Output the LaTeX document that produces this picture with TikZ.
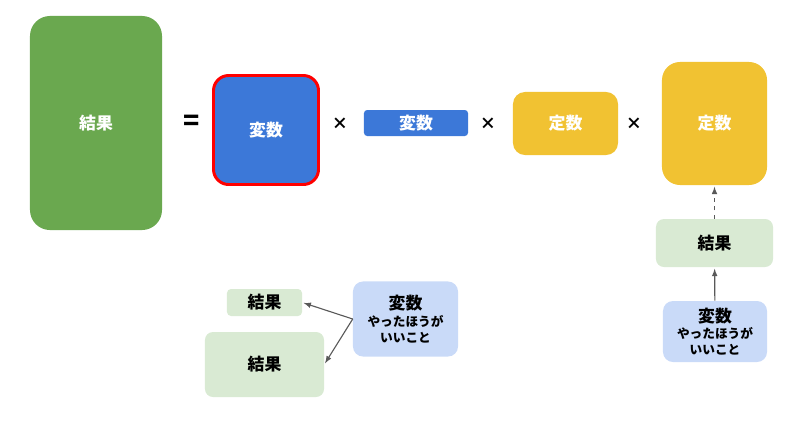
\documentclass[tikz,border=0pt]{standalone}
\usepackage{fontspec}
\setmainfont{Noto Sans CJK JP}
\usepackage{xcolor}
\usetikzlibrary{arrows,positioning}
\definecolor{resgreen}{HTML}{6AA84F}
\definecolor{varblue}{HTML}{3C78D8}
\definecolor{constyellow}{HTML}{F1C232}
\definecolor{lightgreen}{HTML}{D9EAD3}
\definecolor{lightblue}{HTML}{C9DAF8}
\definecolor{arrowgray}{HTML}{595959}
\newcommand{\notesmall}{\fontsize{9}{11}\selectfont}

\begin{document}
\begin{tikzpicture} [x=0.025cm, y=-0.025cm,
  tile/.style={inner sep=0pt, align=center, font=\bfseries\fontsize{12}{14}\selectfont},
  whitetile/.style={tile, text=white},
  note/.style={tile, fill=lightblue, rounded corners=0.25cm},
  op/.style={inner sep=0pt, font=\bfseries\fontsize{11.5}{12}\selectfont},
  link/.style={->, >=latex, thick, color=arrowgray, shorten >=1pt}]
\useasboundingbox (0,0) rectangle (800,429);

% top row
\node[whitetile, fill=resgreen, rounded corners=0.5cm, minimum width=3.3cm, minimum height=5.35cm] (res) at (96,123) {結果};
\node[op, font=\bfseries\fontsize{19}{20}\selectfont] (eq) at (192,123) {=};
\node[whitetile, fill=varblue, draw=red, line width=2.1pt, rounded corners=0.38cm, minimum width=2.625cm, minimum height=2.725cm] (var1) at (266,130) {変数};
\node[op] (x1) at (340,124) {×};
\node[whitetile, fill=varblue, rounded corners=0.08cm, minimum width=2.6cm, minimum height=0.65cm] (var2) at (416,123) {変数};
\node[op] (x2) at (488,124) {×};
\node[whitetile, fill=constyellow, rounded corners=0.3cm, minimum width=2.625cm, minimum height=1.575cm] (const1) at (565.5,123.5) {定数};
\node[op] (x3) at (634,124) {×};
\node[whitetile, fill=constyellow, rounded corners=0.45cm, minimum width=2.625cm, minimum height=3.075cm] (const2) at (714.5,123.5) {定数};

% right column
\node[tile, fill=lightgreen, rounded corners=0.2cm, minimum width=2.925cm, minimum height=1.2cm] (resR) at (714.5,243) {結果};
\node[note, minimum width=2.6cm, minimum height=1.525cm] (noteR) at (715,331.5) {変数\\[-2.3pt]{\notesmall やったほうが}\\[-2.7pt]{\notesmall いいこと}};
\draw[link] (noteR) -- (resR);
\draw[link, dashed] (resR) -- (const2);

% lower left
\node[tile, fill=lightgreen, rounded corners=0.1cm, minimum width=1.875cm, minimum height=0.675cm] (resS) at (264.5,302.5) {結果};
\node[tile, fill=lightgreen, rounded corners=0.2cm, minimum width=2.975cm, minimum height=1.625cm] (resB) at (264.5,364.5) {結果};
\node[note, minimum width=2.625cm, minimum height=1.875cm] (noteL) at (405.5,319) {変数\\[-2.3pt]{\notesmall やったほうが}\\[-2.7pt]{\notesmall いいこと}};
\draw[link] (noteL.west) -- (resS.east);
\draw[link] (noteL.west) -- (resB.east);
\end{tikzpicture}
\end{document}
